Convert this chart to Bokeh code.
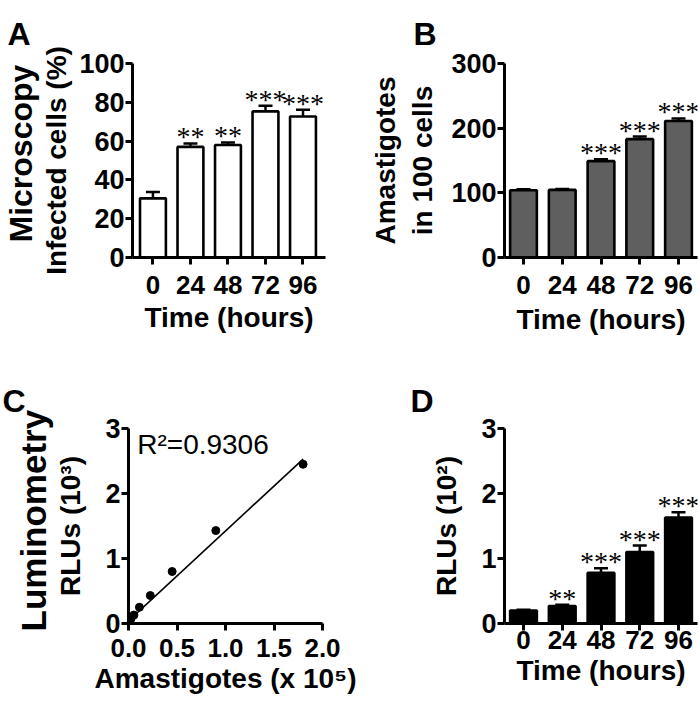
from bokeh.plotting import figure
from bokeh.models import (ColumnDataSource, FixedTicker, Whisker, TeeHead,
                          Label, LabelSet, Range1d, Title)
from bokeh.layouts import row, column
from bokeh.embed import file_html
from bokeh.resources import INLINE

FONT = "Liberation Sans"

# ---------------- data ----------------
times = ["0", "24", "48", "72", "96"]
positions = [0, 1, 2, 3, 4]

a_infected = [30.5, 57.0, 58.0, 75.3, 72.7]
a_err = [3.3, 1.8, 1.3, 2.9, 3.4]
a_stars = ["", "**", "**", "***", "***"]

b_amastigotes = [104.0, 104.5, 149.0, 183.0, 211.0]
b_err = [1.5, 1.5, 3.0, 4.0, 4.0]
b_stars = ["", "", "***", "***", "***"]

c_amastigotes = [0.028, 0.056, 0.1125, 0.225, 0.45, 0.9, 1.8]
c_rlu = [0.08, 0.13, 0.25, 0.43, 0.80, 1.43, 2.45]
c_fit_x = [0.0, 1.8]
c_fit_y = [0.04, 2.53]
c_r2 = "R²=0.9306"

d_rlu = [0.20, 0.27, 0.78, 1.10, 1.63]
d_err = [0.01, 0.02, 0.07, 0.10, 0.08]
d_stars = ["", "**", "***", "***", "***"]

a_yticks = [0, 20, 40, 60, 80, 100]
b_yticks = [0, 100, 200, 300]
c_yticks = [0, 1, 2, 3]
c_xticks = [0.0, 0.5, 1.0, 1.5, 2.0]
c_xtick_labels = ["0.0", "0.5", "1.0", "1.5", "2.0"]
d_yticks = [0, 1, 2, 3]


def style_axes(p, ylabel, yticks, xlabel, x_label_standoff, x_axlabel_standoff,
               y_axlabel_standoff, xticks=None, xoverrides=None):
    p.xgrid.visible = False
    p.ygrid.visible = False
    p.outline_line_color = None
    p.background_fill_color = "white"
    p.border_fill_color = "white"
    for ax in (p.xaxis[0], p.yaxis[0]):
        ax.axis_line_width = 3
        ax.axis_line_color = "black"
        ax.major_tick_line_width = 3
        ax.major_tick_line_color = "black"
        ax.major_tick_out = 7
        ax.major_tick_in = 0
        ax.minor_tick_line_color = None
        ax.major_label_text_font = FONT
        ax.major_label_text_font_style = "bold"
        ax.major_label_text_color = "black"
        ax.axis_label_text_font = FONT
        ax.axis_label_text_font_style = "bold"
        ax.axis_label_text_font_size = "28px"
        ax.axis_label_text_color = "black"
    p.yaxis[0].ticker = FixedTicker(ticks=yticks)
    p.yaxis[0].major_label_text_font_size = "27px"
    p.yaxis[0].major_label_standoff = 1
    p.yaxis[0].axis_label = ylabel
    p.yaxis[0].axis_label_standoff = y_axlabel_standoff
    p.xaxis[0].ticker = FixedTicker(ticks=xticks if xticks is not None else positions)
    if xoverrides is not None:
        p.xaxis[0].major_label_overrides = xoverrides
    p.xaxis[0].major_label_text_font_size = "26px"
    p.xaxis[0].major_label_standoff = x_label_standoff
    p.xaxis[0].axis_label = xlabel
    p.xaxis[0].axis_label_standoff = x_axlabel_standoff


def add_bars(p, values, errs, stars, fill):
    src = ColumnDataSource(dict(
        x=positions, top=values,
        upper=[v + e for v, e in zip(values, errs)],
        stars=stars))
    p.vbar(x="x", top="top", bottom=0, width=0.69, source=src,
           fill_color=fill, line_color="black", line_width=2.6)
    w = Whisker(source=src, base="x", lower="top", upper="upper",
                dimension="height", line_width=2.5, line_color="black",
                upper_head=TeeHead(size=14, line_width=2.5, line_color="black"),
                lower_head=None)
    p.add_layout(w)
    ls = LabelSet(source=src, x="x", y="upper", text="stars",
                  text_align="center", text_baseline="alphabetic",
                  y_offset=-3, text_font=FONT, text_font_size="28px",
                  text_color="black")
    p.add_layout(ls)


def letter_title(p, txt, offset, standoff):
    t = p.title
    t.text = txt
    t.align = "left"
    t.offset = offset
    t.standoff = standoff
    t.vertical_align = "bottom"
    t.text_font = FONT
    t.text_font_style = "bold"
    t.text_font_size = "32px"
    t.text_color = "black"


def row_title(p, txt, offset, size):
    p.add_layout(Title(text=txt, align="left", offset=offset, standoff=0,
                       text_font=FONT, text_font_style="bold",
                       text_font_size=size, text_color="black"), "left")


overrides = {i: t for i, t in zip(positions, times)}

# ---------------- Panel A ----------------
pA = figure(width=350, height=348, output_backend="svg", toolbar_location=None,
            x_range=Range1d(-0.545, 4.6), y_range=Range1d(0, 100),
            min_border_left=127, min_border_right=25,
            min_border_top=63, min_border_bottom=91)
add_bars(pA, a_infected, a_err, a_stars, "white")
style_axes(pA, "Infected cells (%)", a_yticks, "Time (hours)", 11, 5, 4,
           xoverrides=overrides)
letter_title(pA, "A", -125, 24)
row_title(pA, "Microscopy", 15, "32px")

# ---------------- Panel B ----------------
pB = figure(width=350, height=348, output_backend="svg", toolbar_location=None,
            x_range=Range1d(-0.49, 4.49), y_range=Range1d(0, 300),
            min_border_left=154, min_border_right=3,
            min_border_top=63, min_border_bottom=91)
add_bars(pB, b_amastigotes, b_err, b_stars, "#5f5f5f")
style_axes(pB, "Amastigotes\nin 100 cells", b_yticks, "Time (hours)", 11, 7, 10,
           xoverrides=overrides)
letter_title(pB, "B", -91, 24)

# ---------------- Panel C ----------------
pC = figure(width=370, height=354, output_backend="svg", toolbar_location=None,
            x_range=Range1d(0, 2), y_range=Range1d(0, 3),
            min_border_left=128, min_border_right=48,
            min_border_top=80, min_border_bottom=79)
pC.line(c_fit_x, c_fit_y, line_color="black", line_width=1.6)
pC.scatter(c_amastigotes, c_rlu, size=8, marker="circle",
           fill_color="black", line_color="black")
style_axes(pC, "RLUs (10³)", c_yticks, "Amastigotes (x 10⁵)", 8, 3, 16,
           xticks=c_xticks,
           xoverrides={t: s for t, s in zip(c_xticks, c_xtick_labels)})
pC.add_layout(Label(x=0.09, y=2.75, text=c_r2, text_font=FONT,
                    text_font_size="28px", text_align="left",
                    text_baseline="alphabetic", text_color="black"))
letter_title(pC, "C", -126, 19)
row_title(pC, "Luminometry", -8, "35px")

# ---------------- Panel D ----------------
pD = figure(width=330, height=354, output_backend="svg", toolbar_location=None,
            x_range=Range1d(-0.49, 4.49), y_range=Range1d(0, 3),
            min_border_left=134, min_border_right=3,
            min_border_top=80, min_border_bottom=79)
add_bars(pD, d_rlu, d_err, d_stars, "black")
style_axes(pD, "RLUs (10²)", d_yticks, "Time (hours)", 0, 3, 16,
           xoverrides=overrides)
letter_title(pD, "D", -94, 19)

layout = column(row(pA, pB), row(pC, pD))
open("out.html", "w").write(file_html(layout, INLINE))
